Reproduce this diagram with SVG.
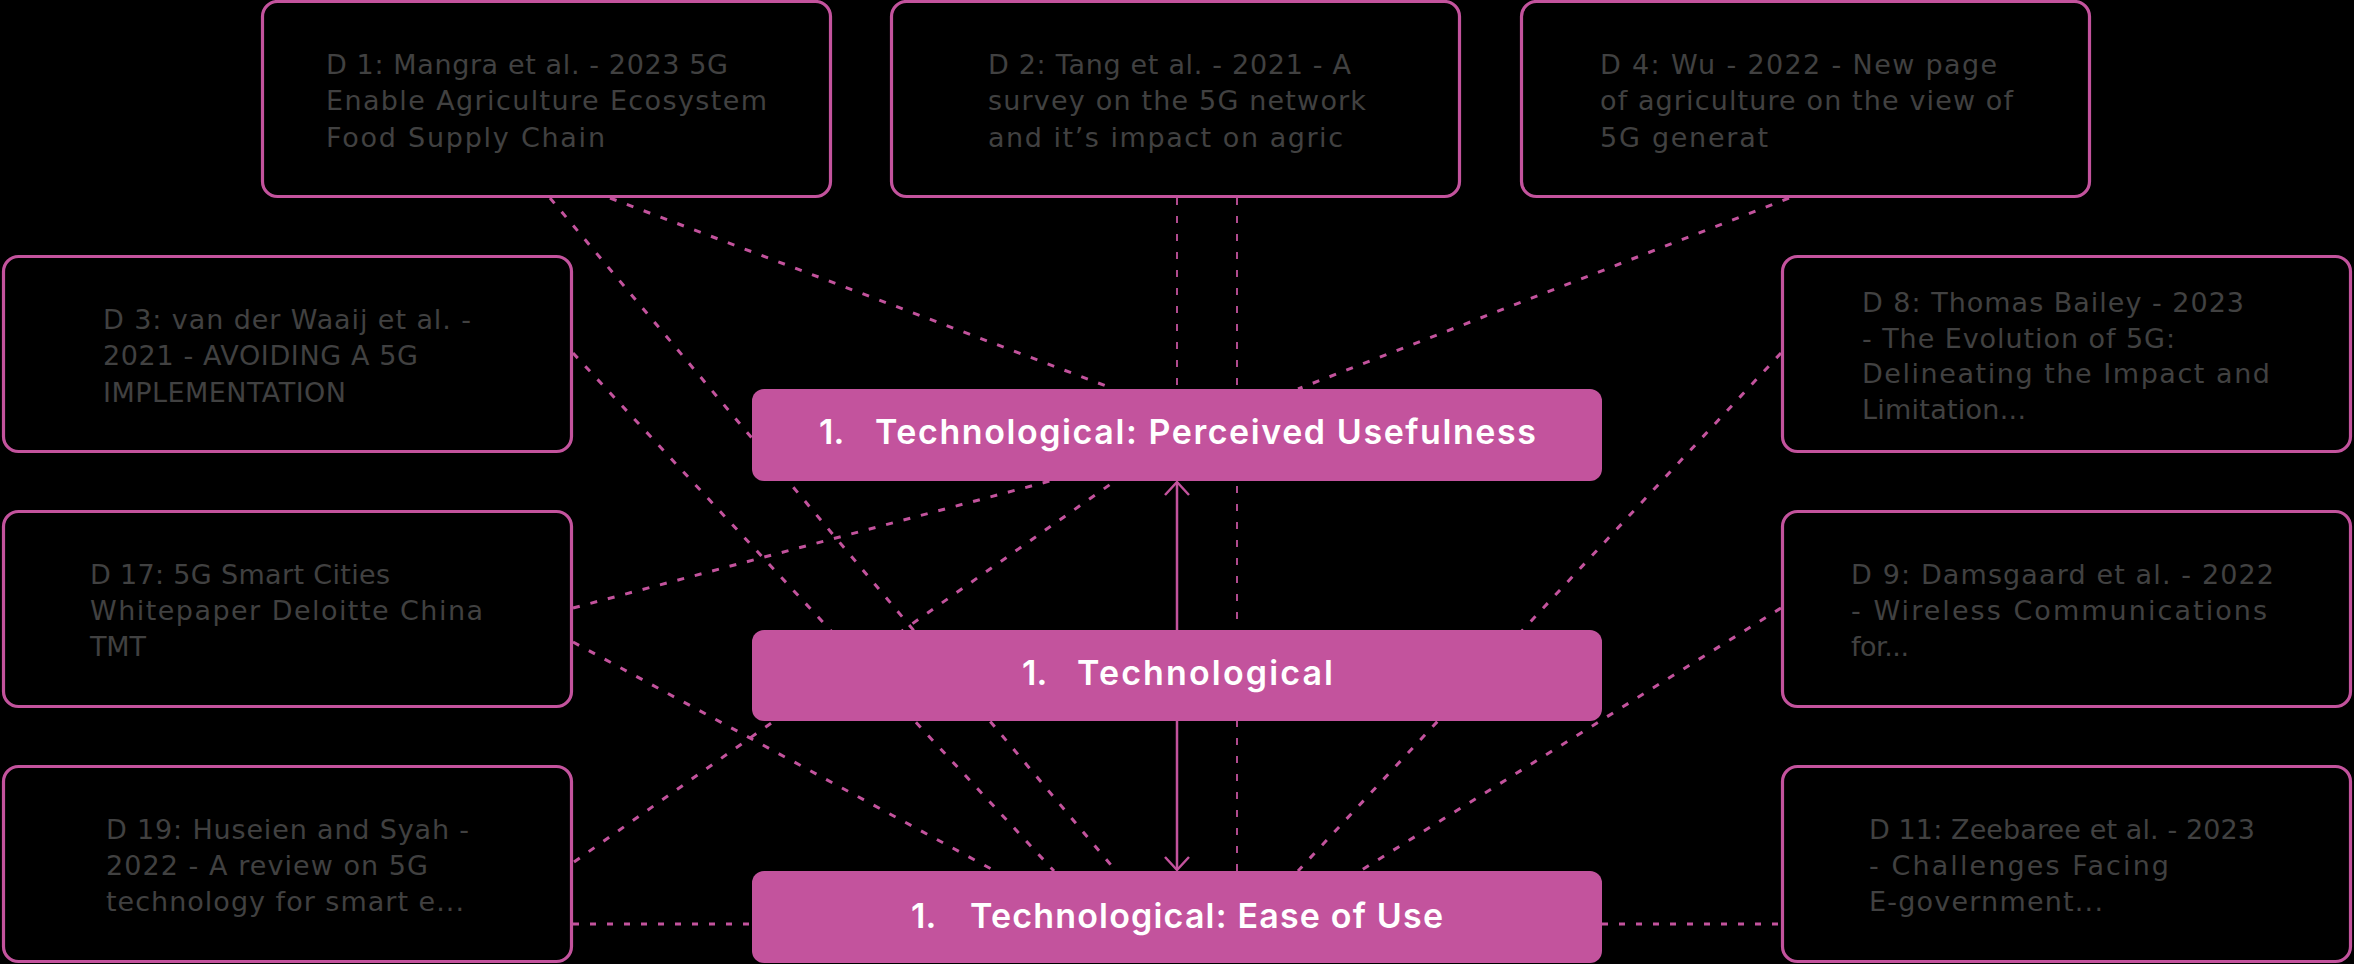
<svg xmlns="http://www.w3.org/2000/svg" width="2354" height="964" viewBox="0 0 2354 964">
<style>
.bg{fill:#000}
.box{fill:#000;stroke:#C3539D;stroke-width:3.2}
.core{fill:#C3539D}
.t{font-family:"DejaVu Sans",Inter,sans-serif;font-size:27px;fill:#414141}
.c{font-family:Inter,"DejaVu Sans",sans-serif;font-size:34px;font-weight:600;fill:#fff}
.dl{fill:none;stroke:#C3539D;stroke-width:3;stroke-dasharray:7 11}
.vl{fill:none;stroke:#C3539D;stroke-width:1.8;stroke-dasharray:7 11}
.hl{fill:none;stroke:#C3539D;stroke-width:3;stroke-dasharray:6 11}
.sl{fill:none;stroke:#C3539D;stroke-width:2.5}
</style>
<defs>
<marker id="arr" viewBox="-16 -14 18 28" refX="0" refY="0" markerWidth="18" markerHeight="28" markerUnits="userSpaceOnUse" orient="auto" overflow="visible">
<path d="M-13,-12 L0,0 L-13,12" fill="none" stroke="#C3539D" stroke-width="2.5"/>
</marker>
</defs>
<rect class="bg" x="0" y="0" width="2354" height="964"/>
<g id="connectors">
<line class="dl" x1="550" y1="198" x2="1116" y2="871"/>
<line class="dl" x1="610" y1="198" x2="1114" y2="389"/>
<line class="vl" x1="1177" y1="198" x2="1177" y2="389"/>
<line class="vl" x1="1237" y1="198" x2="1237" y2="871"/>
<line class="dl" x1="1789" y1="198" x2="1298" y2="389"/>
<line class="dl" x1="573" y1="353" x2="1054" y2="871"/>
<line class="dl" x1="1781" y1="353" x2="1298" y2="871"/>
<line class="dl" x1="573" y1="608" x2="1050" y2="481"/>
<line class="dl" x1="573" y1="642" x2="995" y2="871"/>
<line class="dl" x1="1781" y1="608" x2="1360" y2="871"/>
<line class="dl" x1="574" y1="862" x2="1115" y2="481"/>
<line class="hl" x1="573" y1="924" x2="752" y2="924"/>
<line class="hl" x1="1602" y1="924" x2="1781" y2="924"/>
<line class="sl" x1="1177" y1="676" x2="1177" y2="482" marker-end="url(#arr)"/>
<line class="sl" x1="1177" y1="676" x2="1177" y2="870" marker-end="url(#arr)"/>
</g>
<g id="D1">
<rect class="box" x="262.5" y="1.5" width="568" height="195" rx="15"/>
<text class="t"><tspan x="326" y="74" textLength="402" lengthAdjust="spacing">D 1: Mangra et al. - 2023 5G</tspan><tspan x="326" y="110" textLength="441" lengthAdjust="spacing">Enable Agriculture Ecosystem</tspan><tspan x="326" y="147" textLength="279" lengthAdjust="spacing">Food Supply Chain</tspan></text>
</g>
<g id="D2">
<rect class="box" x="891.5" y="1.5" width="568" height="195" rx="15"/>
<text class="t"><tspan x="988" y="74" textLength="363" lengthAdjust="spacing">D 2: Tang et al. - 2021 - A</tspan><tspan x="988" y="110" textLength="378" lengthAdjust="spacing">survey on the 5G network</tspan><tspan x="988" y="147" textLength="355" lengthAdjust="spacing">and it’s impact on agric</tspan></text>
</g>
<g id="D4">
<rect class="box" x="1521.5" y="1.5" width="568" height="195" rx="15"/>
<text class="t"><tspan x="1600" y="74" textLength="397" lengthAdjust="spacing">D 4: Wu - 2022 - New page</tspan><tspan x="1600" y="110" textLength="413" lengthAdjust="spacing">of agriculture on the view of</tspan><tspan x="1600" y="147" textLength="168" lengthAdjust="spacing">5G generat</tspan></text>
</g>
<g id="D3">
<rect class="box" x="3.5" y="256.5" width="568" height="195" rx="15"/>
<text class="t"><tspan x="103" y="329" textLength="368" lengthAdjust="spacing">D 3: van der Waaij et al. -</tspan><tspan x="103" y="365" textLength="315" lengthAdjust="spacing">2021 - AVOIDING A 5G</tspan><tspan x="103" y="402" textLength="243" lengthAdjust="spacing">IMPLEMENTATION</tspan></text>
</g>
<g id="D8">
<rect class="box" x="1782.5" y="256.5" width="568" height="195" rx="15"/>
<text class="t"><tspan x="1862" y="312" textLength="382" lengthAdjust="spacing">D 8: Thomas Bailey - 2023</tspan><tspan x="1862" y="348" textLength="313" lengthAdjust="spacing">- The Evolution of 5G:</tspan><tspan x="1862" y="383" textLength="408" lengthAdjust="spacing">Delineating the Impact and</tspan><tspan x="1862" y="419" textLength="164" lengthAdjust="spacing">Limitation...</tspan></text>
</g>
<g id="D17">
<rect class="box" x="3.5" y="511.5" width="568" height="195" rx="15"/>
<text class="t"><tspan x="90" y="584" textLength="300" lengthAdjust="spacing">D 17: 5G Smart Cities</tspan><tspan x="90" y="620" textLength="393" lengthAdjust="spacing">Whitepaper Deloitte China</tspan><tspan x="90" y="656" textLength="56" lengthAdjust="spacing">TMT</tspan></text>
</g>
<g id="D9">
<rect class="box" x="1782.5" y="511.5" width="568" height="195" rx="15"/>
<text class="t"><tspan x="1851" y="584" textLength="423" lengthAdjust="spacing">D 9: Damsgaard et al. - 2022</tspan><tspan x="1851" y="620" textLength="416" lengthAdjust="spacing">- Wireless Communications</tspan><tspan x="1851" y="656" textLength="58" lengthAdjust="spacing">for...</tspan></text>
</g>
<g id="D19">
<rect class="box" x="3.5" y="766.5" width="568" height="195" rx="15"/>
<text class="t"><tspan x="106" y="839" textLength="363" lengthAdjust="spacing">D 19: Huseien and Syah -</tspan><tspan x="106" y="875" textLength="322" lengthAdjust="spacing">2022 - A review on 5G</tspan><tspan x="106" y="911" textLength="358" lengthAdjust="spacing">technology for smart e...</tspan></text>
</g>
<g id="D11">
<rect class="box" x="1782.5" y="766.5" width="568" height="195" rx="15"/>
<text class="t"><tspan x="1869" y="839" textLength="386" lengthAdjust="spacing">D 11: Zeebaree et al. - 2023</tspan><tspan x="1869" y="875" textLength="300" lengthAdjust="spacing">- Challenges Facing</tspan><tspan x="1869" y="911" textLength="234" lengthAdjust="spacing">E-government...</tspan></text>
</g>
<g id="PU">
<rect class="core" x="752" y="389" width="850" height="92" rx="12"/>
<text class="c" y="444"><tspan x="819">1.</tspan><tspan x="875" textLength="661" lengthAdjust="spacing">Technological: Perceived Usefulness</tspan></text>
</g>
<g id="TECH">
<rect class="core" x="752" y="630" width="850" height="91" rx="12"/>
<text class="c" y="685"><tspan x="1022">1.</tspan><tspan x="1077" textLength="256" lengthAdjust="spacing">Technological</tspan></text>
</g>
<g id="EOU">
<rect class="core" x="752" y="871" width="850" height="92" rx="12"/>
<text class="c" y="928"><tspan x="911">1.</tspan><tspan x="970" textLength="473" lengthAdjust="spacing">Technological: Ease of Use</tspan></text>
</g>
</svg>
